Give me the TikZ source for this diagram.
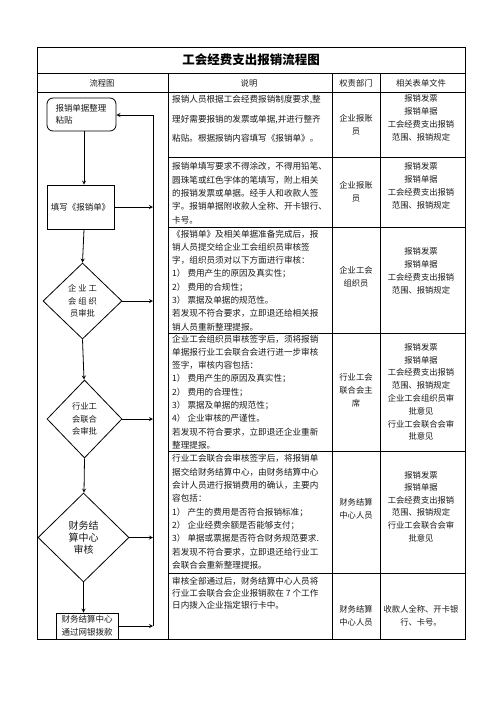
\documentclass[tikz,border=0pt]{standalone}
\usepackage{fontspec}
\setmainfont{Noto Sans CJK SC}
\usepackage{tikz}
\usetikzlibrary{shapes.geometric, arrows, calc}
\tikzstyle{box} = [rectangle, draw=black, thick, align=center, inner sep=0pt, text=black!90, font=\fontsize{8.5pt}{12.5pt}\selectfont]
\tikzstyle{rbox} = [box, rounded corners=6pt]
\tikzstyle{dia} = [diamond, draw=black, thick, align=center, inner sep=0pt, text=black!90, font=\fontsize{8.3pt}{12.5pt}\selectfont]
\tikzstyle{arrow} = [thick,->,>=stealth]
\tikzstyle{rule} = [line width=0.8pt]
\tikzstyle{txt} = [anchor=north west, align=left, inner sep=0pt, text=black!90, font=\fontsize{8.6pt}{13.3pt}\selectfont]
\tikzstyle{cell} = [align=center, inner sep=0pt, text=black!90, font=\fontsize{8.3pt}{13pt}\selectfont]

\begin{document}
\begin{tikzpicture}[x=1pt, y=-1pt]
    \useasboundingbox (0,0) rectangle (496,702);

    % table
    \draw [rule] (37,47) rectangle (465,639);
    \draw [rule] (37,73) -- (465,73);
    \draw [rule] (37,92) -- (465,92);
    \draw [rule] (168,73) -- (168,639);
    \draw [rule] (332,73) -- (332,639);
    \draw [rule] (380,73) -- (380,639);
    \draw [rule] (168,157) -- (465,157);
    \draw [rule] (168,227) -- (465,227);
    \draw [rule] (168,333) -- (465,333);
    \draw [rule] (168,451) -- (465,451);
    \draw [rule] (168,573) -- (465,573);

    \node (title) at (251,60) {\fontsize{12.5pt}{14pt}\selectfont\bfseries 工会经费支出报销流程图};
    \node (h1) [cell] at (102,83) {流程图};
    \node (h2) [cell] at (249,83) {说明};
    \node (h3) [cell] at (356,83) {权责部门};
    \node (h4) [cell] at (421,83) {相关表单文件};

    % flow chart
    \node (1) [rbox, minimum width=69pt, minimum height=33pt, text width=52pt, align=left] at (81.5,114.5) {报销单据整理\\粘贴};
    \node (2) [box, minimum width=67pt, minimum height=44pt] at (80.5,207) {填写《报销单》};
    \node (3) [dia, minimum width=79pt, minimum height=76pt] at (82.5,301) {企 业 工\\会 组 织\\员审批};
    \node (4) [dia, minimum width=75pt, minimum height=78pt] at (84.5,419) {行业工\\会联合\\会审批};
    \node (5) [dia, minimum width=91pt, minimum height=89pt, font=\fontsize{10pt}{12pt}\selectfont] at (83.5,537.5) {财务结\\算中心\\审核};
    \node (6) [box, minimum width=62pt, minimum height=26pt] at (87,626) {财务结算中心\\通过网银拨款};
    \coordinate (top) at (153,115);
    \coordinate (bot) at (153,626);

    \draw [arrow] (1.south -| 84,0) -- (84,0 |- 2.north);
    \draw [arrow] (2.south -| 84,0) -- (3.north);
    \draw [arrow] (3.south) -- (84,0 |- 4.north);
    \draw [arrow] (4.south) -- (84,0 |- 5.north);
    \draw [arrow] (5.south) -- (5.south |- 6.north);
    \draw [arrow] (2.east) -- (2.east -| top);
    \draw [arrow] (3.east) -- (3.east -| top);
    \draw [arrow] (4.east) -- (4.east -| top);
    \draw [arrow] (5.east) -- (5.east -| top);
    \draw [arrow] (6.east) -- (bot);
    \draw [arrow] (bot) -- (top) -- (top -| 1.east);

    % description
    \node (d1) [txt, font=\fontsize{8.6pt}{19.5pt}\selectfont] at (172,95.5) {报销人员根据工会经费报销制度要求,整\\理好需要报销的发票或单据,并进行整齐\\粘贴。根据报销内容填写《报销单》。};
    \node (d2) [txt] at (172,162.5) {报销单填写要求不得涂改，不得用铅笔、\\圆珠笔或红色字体的笔填写，附上相关\\的报销发票或单据。经手人和收款人签\\字。报销单据附收款人全称、开卡银行、\\卡号。};
    \node (d3) [txt] at (172,229.5) {《报销单》及相关单据准备完成后，报\\销人员提交给企业工会组织员审核签\\字，组织员须对以下方面进行审核：\\1）\ 费用产生的原因及真实性；\\2）\ 费用的合规性；\\3）\ 票据及单据的规范性。\\若发现不符合要求，立即退还给相关报\\销人员重新整理提报。};
    \node (d4) [txt] at (172,334.5) {企业工会组织员审核签字后，须将报销\\单据报行业工会联合会进行进一步审核\\签字，审核内容包括：\\1）\ 费用产生的原因及真实性；\\2）\ 费用的合理性；\\3）\ 票据及单据的规范性；\\4）\ 企业审核的严谨性。\\若发现不符合要求，立即退还企业重新\\整理提报。};
    \node (d5) [txt] at (172,454.5) {行业工会联合会审核签字后，将报销单\\据交给财务结算中心，由财务结算中心\\会计人员进行报销费用的确认，主要内\\容包括：\\1）\ 产生的费用是否符合报销标准；\\2）\ 企业经费余额是否能够支付；\\3）\ 单据或票据是否符合财务规范要求.\\若发现不符合要求，立即退还给行业工\\会联合会重新整理提报。};
    \node (d6) [txt, font=\fontsize{8.6pt}{12pt}\selectfont] at (172,576.5) {审核全部通过后，财务结算中心人员将\\行业工会联合会企业报销款在 7 个工作\\日内拨入企业指定银行卡中。};

    % departments
    \node (p1) [cell] at (356,125) {企业报账\\员};
    \node (p2) [cell] at (356,192) {企业报账\\员};
    \node (p3) [cell] at (356,277) {企业工会\\组织员};
    \node (p4) [cell] at (356,390) {行业工会\\联合会主\\席};
    \node (p5) [cell] at (356,509) {财务结算\\中心人员};
    \node (p6) [cell] at (356,616) {财务结算\\中心人员};

    % forms
    \node (f1) [cell] at (421,117.5) {报销发票\\报销单据\\工会经费支出报销\\范围、报销规定};
    \node (f2) [cell] at (421,185.5) {报销发票\\报销单据\\工会经费支出报销\\范围、报销规定};
    \node (f3) [cell] at (421,271) {报销发票\\报销单据\\工会经费支出报销\\范围、报销规定};
    \node (f4) [cell, font=\fontsize{8.3pt}{12.8pt}\selectfont] at (421,392) {报销发票\\报销单据\\工会经费支出报销\\范围、报销规定\\企业工会组织员审\\批意见\\行业工会联合会审\\批意见};
    \node (f5) [cell, font=\fontsize{8.3pt}{12.6pt}\selectfont] at (421,506.5) {报销发票\\报销单据\\工会经费支出报销\\范围、报销规定\\行业工会联合会审\\批意见};
    \node (f6) [cell] at (421,616) {收款人全称、开卡银\\行、卡号。};
  \end{tikzpicture}
\end{document}
